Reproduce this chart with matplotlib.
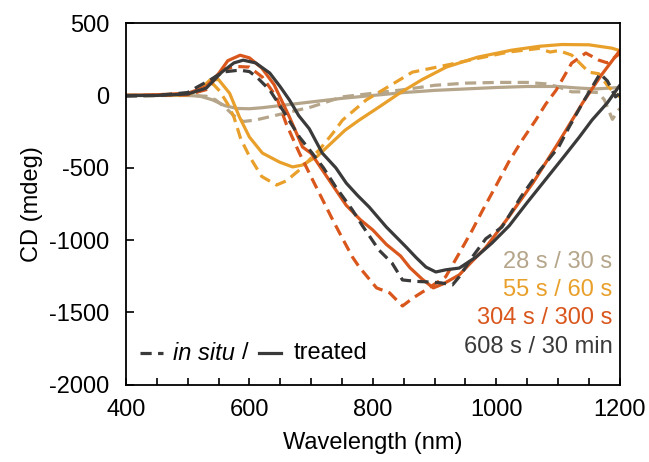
import matplotlib
matplotlib.use("Agg")
import matplotlib.pyplot as plt
from matplotlib.lines import Line2D

plt.rcParams['font.family'] = ['Liberation Sans', 'DejaVu Sans']
plt.rcParams['axes.unicode_minus'] = False

TAN = "#B5A58A"
ORANGE = "#E9A02B"
RED = "#D9561C"
BLACK = "#3A3A3A"

# 28 s / 30 s
tan_insitu_nm = [400, 450, 500, 530, 545, 560, 575, 590, 610, 650, 700, 750, 800, 850, 900, 950,
                 1000, 1050, 1080, 1100, 1122, 1145, 1165, 1175, 1188, 1200]
tan_insitu_cd = [0, 0, 0, -5, -30, -80, -140, -180, -170, -130, -80, -10, 15, 40, 70, 85,
                 90, 90, 80, 60, 25, 25, 20, -30, -165, -90]
tan_treated_nm = [400, 450, 500, 520, 540, 560, 580, 600, 620, 650, 700, 750, 800, 850, 900, 950,
                  1000, 1050, 1100, 1130, 1160, 1180, 1200]
tan_treated_cd = [0, 0, 0, -5, -30, -70, -90, -92, -85, -70, -45, -20, 0, 20, 35, 45,
                  55, 62, 62, 52, 45, 50, 55]

# 55 s / 60 s
orange_insitu_nm = [400, 450, 500, 520, 530, 541, 552, 565, 575, 586, 600, 620, 644, 660, 681, 713,
                    735, 751, 789, 843, 864, 920, 972, 1020, 1069, 1087, 1101, 1122, 1150, 1166,
                    1182, 1200]
orange_insitu_cd = [0, 0, 5, 30, 55, 80, 30, -60, -150, -300, -420, -560, -619, -590, -515, -377,
                    -262, -170, -32, 107, 161, 210, 258, 300, 325, 300, 310, 279, 161, 150,
                    57, -10]
orange_treated_nm = [400, 450, 500, 520, 536, 550, 568, 584, 600, 621, 649, 670, 686, 710, 730, 755,
                     778, 810, 843, 880, 919, 970, 1025, 1070, 1106, 1150, 1187, 1200]
orange_treated_cd = [0, 0, 5, 40, 106, 110, 15, -150, -287, -398, -461, -494, -481, -420, -340, -240,
                     -170, -80, 15, 110, 196, 265, 313, 340, 352, 350, 327, 310]

# 304 s / 300 s
red_insitu_nm = [400, 450, 500, 530, 557, 580, 600, 621, 644, 660, 681, 702, 735, 751, 767, 778,
                 806, 827, 848, 865, 886, 918, 940, 961, 977, 1000, 1020, 1042, 1064, 1080, 1097,
                 1122, 1145, 1166, 1180, 1200]
red_insitu_cd = [0, 0, 5, 40, 180, 200, 196, 127, -11, -200, -398, -580, -860, -990, -1117, -1186,
                 -1330, -1364, -1455, -1400, -1343, -1253, -1090, -931, -800, -620, -460, -308, -169,
                 -60, 37, 223, 293, 244, 225, 290]
red_treated_nm = [400, 450, 500, 530, 550, 565, 585, 600, 620, 640, 665, 686, 700, 730, 757, 780,
                  800, 822, 845, 860, 880, 898, 915, 940, 960, 983, 1020, 1060, 1100, 1140, 1170, 1200]
red_treated_cd = [0, 5, 15, 60, 150, 240, 278, 260, 190, 75, -150, -356, -400, -590, -760, -860,
                  -930, -1030, -1110, -1190, -1270, -1330, -1300, -1240, -1150, -1050, -840, -600,
                  -330, -50, 140, 310]

# 608 s / 30 min
black_insitu_nm = [400, 450, 500, 515, 536, 557, 584, 600, 612, 633, 654, 681, 702, 720, 740, 767,
                   783, 810, 831, 848, 870, 886, 910, 929, 940, 961, 983, 1009, 1040, 1070, 1101,
                   1118, 1140, 1168, 1180, 1193, 1200]
black_insitu_cd = [-5, 0, 20, 57, 106, 162, 175, 165, 127, 37, -101, -287, -400, -500, -633, -792,
                   -900, -1069, -1158, -1275, -1285, -1288, -1295, -1309, -1253, -1117, -990, -910,
                   -700, -520, -356, -218, -50, 150, 100, -10, 15]
black_treated_nm = [400, 450, 500, 530, 555, 575, 590, 610, 633, 650, 665, 680, 697, 718, 740, 757,
                    775, 794, 822, 838, 854, 870, 886, 902, 918, 940, 967, 993, 1021, 1050, 1080,
                    1110, 1134, 1155, 1180, 1200]
black_treated_cd = [0, 0, 10, 50, 160, 225, 244, 225, 155, 60, -32, -140, -230, -398, -500, -606,
                    -690, -771, -910, -979, -1048, -1120, -1186, -1220, -1205, -1193, -1117, -1020,
                    -900, -740, -580, -420, -290, -170, -50, 70]

series = [
    (tan_insitu_nm, tan_insitu_cd, tan_treated_nm, tan_treated_cd, TAN, "28 s / 30 s"),
    (orange_insitu_nm, orange_insitu_cd, orange_treated_nm, orange_treated_cd, ORANGE, "55 s / 60 s"),
    (red_insitu_nm, red_insitu_cd, red_treated_nm, red_treated_cd, RED, "304 s / 300 s"),
    (black_insitu_nm, black_insitu_cd, black_treated_nm, black_treated_cd, BLACK, "608 s / 30 min"),
]

fig = plt.figure(figsize=(6.49, 4.62), dpi=100)
ax = fig.add_axes([0.194, 0.167, 0.761, 0.783])

for x1, y1, x2, y2, col, lab in series:
    ax.plot(x2, y2, color=col, lw=2.3, solid_capstyle="round")
    ax.plot(x1, y1, color=col, lw=2.3, ls=(0, (3.5, 2)))

ax.set_xlim(400, 1200)
ax.set_ylim(-2000, 500)
ax.set_xticks(range(400, 1201, 200))
ax.set_xticks(range(400, 1201, 50), minor=True)
ax.set_yticks(range(-2000, 501, 500))
ax.tick_params(axis="both", which="both", direction="in", labelsize=17, width=1.2)
ax.tick_params(axis="x", which="both", length=5, pad=10)
ax.tick_params(axis="y", length=6, pad=12)
for s in ax.spines.values():
    s.set_linewidth(1.3)
ax.set_xlabel("Wavelength (nm)", fontsize=17, labelpad=8)
ax.set_ylabel("CD (mdeg)", fontsize=17, labelpad=4)

# colour key at right
for i, (_, _, _, _, col, lab) in enumerate(series):
    ax.text(0.985, 0.340 - i * 0.078, lab, color=col, fontsize=17,
            ha="right", va="center", transform=ax.transAxes)

# line-style key
ax.add_line(Line2D([0.028, 0.075], [0.088, 0.088], color=BLACK, lw=2.3, ls=(0, (3.5, 2)),
                   transform=ax.transAxes))
ax.text(0.095, 0.088, "in situ", style="italic", fontsize=17, va="center", transform=ax.transAxes)
ax.text(0.235, 0.088, "/", fontsize=17, va="center", transform=ax.transAxes)
ax.add_line(Line2D([0.27, 0.315], [0.088, 0.088], color=BLACK, lw=2.3, transform=ax.transAxes))
ax.text(0.34, 0.088, "treated", fontsize=17, va="center", transform=ax.transAxes)

fig.savefig("out.png", dpi=100)
